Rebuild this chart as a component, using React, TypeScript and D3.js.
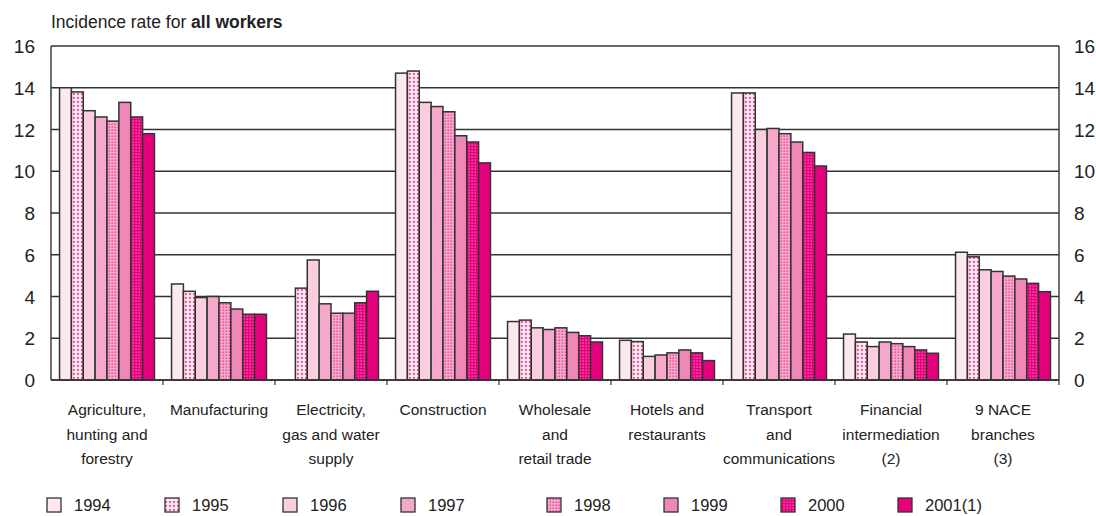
import React from "react";
import * as d3 from "d3";

const categories = [
  ["Agriculture,", "hunting and", "forestry"],
  ["Manufacturing"],
  ["Electricity,", "gas and water", "supply"],
  ["Construction"],
  ["Wholesale", "and", "retail trade"],
  ["Hotels and", "restaurants"],
  ["Transport", "and", "communications"],
  ["Financial", "intermediation", "(2)"],
  ["9 NACE", "branches", "(3)"],
];

const years = ["1994", "1995", "1996", "1997", "1998", "1999", "2000", "2001(1)"];

// one row per category, one value per year (null = no data)
const values: (number | null)[][] = [
  [14.0, 13.8, 12.9, 12.6, 12.4, 13.3, 12.6, 11.8],
  [4.6, 4.25, 3.95, 4.0, 3.7, 3.4, 3.15, 3.15],
  [null, 4.4, 5.75, 3.65, 3.2, 3.2, 3.7, 4.25],
  [14.7, 14.8, 13.3, 13.1, 12.85, 11.7, 11.4, 10.4],
  [2.8, 2.87, 2.5, 2.42, 2.5, 2.28, 2.12, 1.82],
  [1.9, 1.84, 1.13, 1.2, 1.3, 1.44, 1.3, 0.93],
  [13.75, 13.75, 12.0, 12.05, 11.8, 11.4, 10.9, 10.25],
  [2.2, 1.82, 1.6, 1.82, 1.74, 1.6, 1.44, 1.28],
  [6.12, 5.9, 5.28, 5.2, 4.98, 4.84, 4.63, 4.23],
];

const yTicks = [0, 2, 4, 6, 8, 10, 12, 14, 16];

const fills = [
  "#fde8f0",
  "url(#p1995)",
  "#f9cfdf",
  "#f4a9cb",
  "url(#p1998)",
  "#f088b7",
  "url(#p2000)",
  "#e6007e",
];

const FONT = "Liberation Sans, Arial, sans-serif";

export default function App() {
  const W = 1096;
  const H = 516;
  const left = 51;
  const right = 1059;
  const top = 46;
  const bottom = 380;

  const x0 = d3
    .scaleBand<number>()
    .domain(categories.map((_, i) => i))
    .range([left, right])
    .padding(0);
  const x1 = d3
    .scaleBand<number>()
    .domain(years.map((_, i) => i))
    .range([0, x0.bandwidth()])
    .paddingInner(0)
    .paddingOuter(0.72);
  const y = d3.scaleLinear().domain([0, 16]).range([bottom, top]);

  const legendX = (i: number) => (i < 4 ? 47 + i * 118 : 547 + (i - 4) * 117);

  return (
    <svg
      width={W}
      height={H}
      style={{ position: "absolute", left: 0, top: 0, background: "#fff" }}
      fontFamily={FONT}
    >
      <defs>
        <pattern id="p1995" width="4" height="4" patternUnits="userSpaceOnUse">
          <rect width="4" height="4" fill="#fde6ef" />
          <rect x="1" y="1" width="1.8" height="1.8" fill="#ec3f92" />
        </pattern>
        <pattern id="p1998" width="3" height="3" patternUnits="userSpaceOnUse">
          <rect width="3" height="3" fill="#f7a8cc" />
          <rect x="0.5" y="0.5" width="1.4" height="1.4" fill="#ec3d90" />
        </pattern>
        <pattern id="p2000" width="3" height="3" patternUnits="userSpaceOnUse">
          <rect width="3" height="3" fill="#e6007e" />
          <rect x="0.5" y="0.5" width="1.2" height="1.2" fill="#f78cc0" />
        </pattern>
      </defs>

      <text x={left} y={28} fontSize={17.5} fill="#222">
        Incidence rate for <tspan fontWeight="bold">all workers</tspan>
      </text>

      {/* gridlines */}
      {yTicks.map((t) => (
        <line
          key={"g" + t}
          x1={left}
          x2={right}
          y1={y(t)}
          y2={y(t)}
          stroke="#333"
          strokeWidth={1.4}
        />
      ))}
      <line x1={left} x2={left} y1={top} y2={bottom} stroke="#333" strokeWidth={1.4} />
      <line x1={right} x2={right} y1={top} y2={bottom} stroke="#333" strokeWidth={1.4} />

      {/* bars */}
      {values.map((row, ci) =>
        row.map((v, yi) =>
          v == null ? null : (
            <rect
              key={ci + "-" + yi}
              x={(x0(ci) as number) + (x1(yi) as number)}
              y={y(v)}
              width={x1.bandwidth()}
              height={bottom - y(v)}
              fill={fills[yi]}
              stroke="#333"
              strokeWidth={1.5}
            />
          )
        )
      )}

      <line x1={left} x2={right} y1={bottom} y2={bottom} stroke="#333" strokeWidth={1.6} />
      {categories.map((_, i) => (
        <line
          key={"t" + i}
          x1={(x0(i) as number) + x0.bandwidth()}
          x2={(x0(i) as number) + x0.bandwidth()}
          y1={bottom}
          y2={bottom + 5}
          stroke="#333"
          strokeWidth={1.2}
        />
      ))}

      {/* y labels */}
      {yTicks.map((t) => (
        <g key={"l" + t} fontSize={19} fill="#222">
          <text x={35} y={y(t) + 7} textAnchor="end">
            {t}
          </text>
          <text x={1074} y={y(t) + 7}>
            {t}
          </text>
        </g>
      ))}

      {/* category labels */}
      {categories.map((lines, i) => (
        <text key={"c" + i} textAnchor="middle" fontSize={15.5} fill="#222">
          {lines.map((l, j) => (
            <tspan key={j} x={(x0(i) as number) + x0.bandwidth() / 2} y={415 + j * 24.5}>
              {l}
            </tspan>
          ))}
        </text>
      ))}

      {/* legend */}
      {years.map((yr, i) => (
        <g key={"lg" + i}>
          <rect
            x={legendX(i)}
            y={498}
            width={14}
            height={14}
            fill={fills[i]}
            stroke="#333"
            strokeWidth={1.3}
          />
          <text x={legendX(i) + 27} y={511} fontSize={16.5} fill="#222">
            {yr}
          </text>
        </g>
      ))}
    </svg>
  );
}
